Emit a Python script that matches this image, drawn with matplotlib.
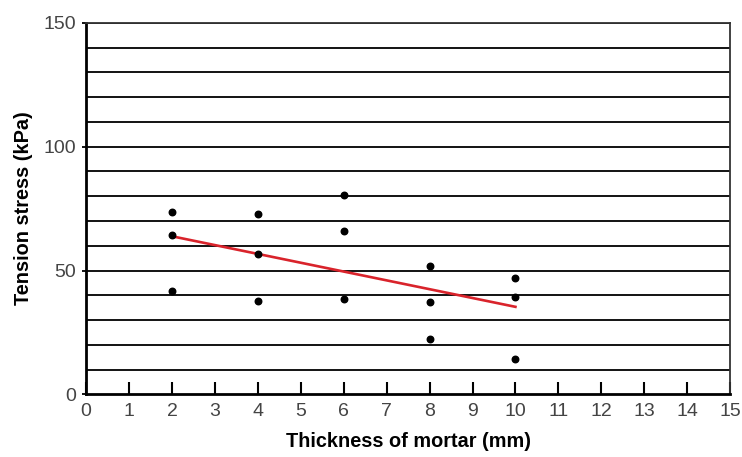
import matplotlib
matplotlib.use('Agg')
import matplotlib.pyplot as plt
import numpy as np

plt.rcParams['font.family'] = ['Liberation Sans', 'DejaVu Sans']

# thickness of mortar (mm), three specimens each
thickness = [2, 2, 2, 4, 4, 4, 6, 6, 6, 8, 8, 8, 10, 10, 10]
tension = [73.6, 64.3, 41.6,
           72.9, 56.5, 37.8,
           80.6, 65.9, 38.6,
           51.8, 37.5, 22.4,
           47.1, 39.2, 14.1]

x_ticks = list(range(0, 16))
y_ticks = [0, 50, 100, 150]
grid_y = list(range(10, 151, 10))

fig = plt.figure(figsize=(7.42, 4.57), dpi=100)
ax = fig.add_axes([0.116, 0.137, 0.868, 0.813])

for gy in grid_y:
    ax.axhline(gy, color='black', lw=1.3, zorder=1)

ax.scatter(thickness, tension, s=22, color='black', zorder=3)

# linear fit
k, b = np.polyfit(thickness, tension, 1)
xf = np.array([min(thickness), max(thickness)])
ax.plot(xf, k * xf + b, color='#d9232b', lw=1.9, zorder=2)

ax.set_xlim(0, 15)
ax.set_ylim(0, 150)
ax.set_xticks(x_ticks)
ax.set_yticks(y_ticks)
ax.tick_params(axis='x', direction='in', length=9, width=1.5, colors='black',
               labelcolor='#444444', labelsize=14, pad=6)
ax.tick_params(axis='y', direction='out', length=3, width=1.3, colors='black',
               labelcolor='#444444', labelsize=14, pad=4)

for s in ['left', 'bottom']:
    ax.spines[s].set_linewidth(2)
for s in ['top', 'right']:
    ax.spines[s].set_linewidth(1.3)
    ax.spines[s].set_color('#333333')

ax.set_xlabel('Thickness of mortar (mm)', fontsize=14.3, fontweight='bold', labelpad=9)
ax.set_ylabel('Tension stress (kPa)', fontsize=14.3, fontweight='bold', labelpad=8)

fig.savefig('out.png', dpi=100)
